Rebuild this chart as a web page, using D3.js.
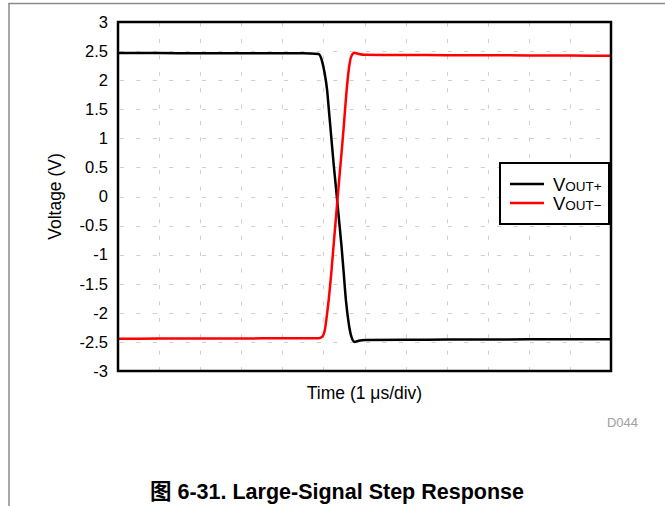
<!DOCTYPE html>
<html><head><meta charset="utf-8">
<script src="https://cdn.jsdelivr.net/npm/d3@7"></script>
<style>body{margin:0;background:#fff}svg{display:block}</style>
</head><body>
<svg id="chart" width="665" height="506"></svg>
<script>
// ---- data ----
const timeUs  = [0, 1, 2, 3, 4, 4.5, 4.88, 4.97, 5.03, 5.09, 5.14, 5.19, 5.25, 5.31, 5.37, 5.44, 5.49, 5.55, 5.62, 5.68, 5.76, 5.86, 6.02, 7, 8, 9, 10, 11, 12];
const voutPos = [2.465, 2.465, 2.463, 2.462, 2.462, 2.462, 2.45, 2.32, 2.12, 1.83, 1.43, 1.03, 0.55, 0.12, -0.33, -0.85, -1.28, -1.80, -2.20, -2.41, -2.50, -2.48, -2.467, -2.462, -2.46, -2.458, -2.456, -2.455, -2.455];
const voutNeg = [-2.445, -2.443, -2.441, -2.44, -2.438, -2.437, -2.436, -2.41, -2.31, -2.01, -1.70, -1.33, -0.82, -0.32, 0.18, 0.74, 1.16, 1.70, 2.20, 2.41, 2.47, 2.45, 2.435, 2.432, 2.43, 2.428, 2.425, 2.423, 2.42];
const yTickValues = [3, 2.5, 2, 1.5, 1, 0.5, 0, -0.5, -1, -1.5, -2, -2.5, -3];
const xGridValues = [1, 2, 3, 4, 5, 6, 7, 8, 9, 10, 11];
const seriesNames = ["VOUT+", "VOUT\u2212"];
const seriesSubs  = ["OUT+", "OUT\u2212"];
const seriesColors = ["#000000", "#ff0000"];
const yTitle = "Voltage (V)";
const xTitle = "Time (1 \u03bcs/div)";
const docId = "D044";
const caption = "\u56fe 6-31. Large-Signal Step Response";

// ---- layout ----
const svg = d3.select("#chart");
const m = {left: 118, top: 22, right: 611, bottom: 371};
const x = d3.scaleLinear().domain([0, 12]).range([m.left, m.right]);
const y = d3.scaleLinear().domain([-3, 3]).range([m.bottom, m.top]);
const font = "'Liberation Sans', Arial, sans-serif";

// outer figure frame (top + left)
svg.append("line").attr("x1", 8.5).attr("x2", 665).attr("y1", 3.5).attr("y2", 3.5)
  .attr("stroke", "#8a8a8a").attr("stroke-width", 1.5);
svg.append("line").attr("x1", 9).attr("x2", 9).attr("y1", 3).attr("y2", 506)
  .attr("stroke", "#8a8a8a").attr("stroke-width", 1.5);

// grid
const grid = svg.append("g").attr("stroke", "#cfcfcf").attr("stroke-width", 1)
  .attr("stroke-dasharray", "4,12.4");
grid.selectAll("line.h").data(yTickValues.filter(v => v > -3 && v < 3)).join("line")
  .attr("class", "h")
  .attr("x1", m.left + 2).attr("x2", m.right)
  .attr("y1", d => Math.round(y(d)) + 0.5).attr("y2", d => Math.round(y(d)) + 0.5);
grid.selectAll("line.v").data(xGridValues).join("line")
  .attr("class", "v")
  .attr("x1", d => Math.round(x(d)) + 0.5).attr("x2", d => Math.round(x(d)) + 0.5)
  .attr("y1", m.bottom).attr("y2", m.top);

// y axis labels
const yAxis = d3.axisLeft(y).tickValues(yTickValues).tickSize(0).tickPadding(10)
  .tickFormat(d => String(d));
const gy = svg.append("g").attr("transform", `translate(${m.left},0)`).call(yAxis);
gy.select(".domain").remove();
gy.selectAll("text").attr("font-family", font).attr("font-size", 16.5).attr("fill", "#000");

// series
const line = d3.line().x((d, i) => x(timeUs[i])).y(d => y(d)).curve(d3.curveMonotoneX);
[voutPos, voutNeg].forEach((s, k) => {
  svg.append("path").datum(s).attr("d", line).attr("fill", "none")
    .attr("stroke", seriesColors[k]).attr("stroke-width", 2.5).attr("stroke-linejoin", "round");
});

// plot frame
svg.append("rect").attr("x", m.left).attr("y", m.top)
  .attr("width", m.right - m.left).attr("height", m.bottom - m.top)
  .attr("fill", "none").attr("stroke", "#000").attr("stroke-width", 2.5);

// legend
const lg = svg.append("g");
lg.append("rect").attr("x", 500).attr("y", 163).attr("width", 109).attr("height", 61)
  .attr("fill", "#fff").attr("stroke", "#000").attr("stroke-width", 2);
seriesNames.forEach((n, k) => {
  const yy = 184 + k * 19;
  lg.append("line").attr("x1", 510).attr("x2", 544).attr("y1", yy).attr("y2", yy)
    .attr("stroke", seriesColors[k]).attr("stroke-width", 2.5);
  const t = lg.append("text").attr("x", 553).attr("y", yy + 6.5)
    .attr("font-family", font).attr("font-size", 18.5).attr("fill", "#000");
  t.append("tspan").text("V");
  t.append("tspan").attr("font-size", 13.5).text(seriesSubs[k]);
});

// axis titles
svg.append("text").attr("x", (m.left + m.right) / 2).attr("y", 399)
  .attr("text-anchor", "middle").attr("font-family", font).attr("font-size", 17.5).text(xTitle);
svg.append("text").attr("transform", `translate(61,${(m.top + m.bottom) / 2}) rotate(-90)`)
  .attr("text-anchor", "middle").attr("font-family", font).attr("font-size", 17.5).text(yTitle);

// doc id
svg.append("text").attr("x", 638).attr("y", 427).attr("text-anchor", "end")
  .attr("font-family", font).attr("font-size", 13).attr("fill", "#a0a0a0").text(docId);

// caption
svg.append("text").attr("x", 337).attr("y", 499).attr("text-anchor", "middle")
  .attr("font-family", "'Liberation Sans', 'Noto Sans CJK SC', Arial, sans-serif")
  .attr("font-weight", "bold").attr("font-size", 21.5).attr("fill", "#000").text(caption);
</script>
</body></html>
